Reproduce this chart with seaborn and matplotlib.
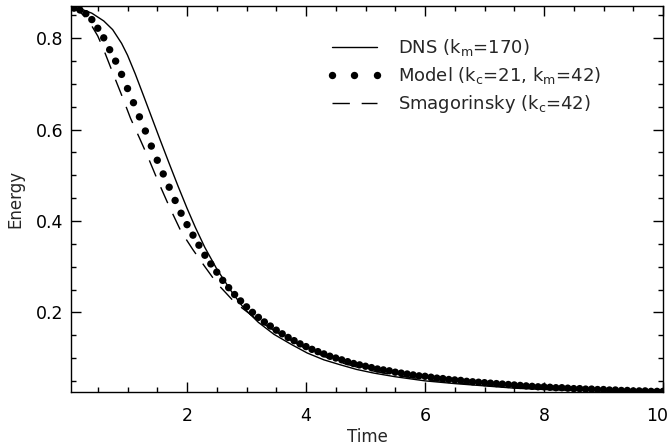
import matplotlib
matplotlib.use("Agg")
import matplotlib.pyplot as plt
from matplotlib.ticker import MultipleLocator
from matplotlib.lines import Line2D
from matplotlib.transforms import ScaledTranslation
import pandas as pd
import seaborn as sns

# ---------------- data ----------------
dns_time = [0.05, 0.2, 0.4, 0.6, 0.75, 0.9, 1.0, 1.13, 1.27, 1.4, 1.55, 1.7,
            1.85, 2.0, 2.14, 2.3, 2.5, 2.75, 2.95, 3.2, 3.46, 3.75, 4.02, 4.3,
            4.58, 4.85, 5.14, 5.5, 6.0, 6.5, 7.0, 7.5, 8.0, 8.5, 9.0, 9.5, 10.0]
dns_energy = [0.868, 0.865, 0.855, 0.838, 0.819, 0.789, 0.763, 0.722, 0.674,
              0.629, 0.577, 0.526, 0.476, 0.428, 0.386, 0.342, 0.295, 0.245,
              0.210, 0.178, 0.152, 0.130, 0.111, 0.096, 0.085, 0.075, 0.067,
              0.059, 0.050, 0.044, 0.039, 0.034, 0.031, 0.029, 0.028, 0.027,
              0.026]

model_time = [0.1, 0.2, 0.3, 0.4, 0.5, 0.6, 0.7, 0.8, 0.9, 1.0,
              1.1, 1.2, 1.3, 1.4, 1.5, 1.6, 1.7, 1.8, 1.9, 2.0,
              2.1, 2.2, 2.3, 2.4, 2.5, 2.6, 2.7, 2.8, 2.9, 3.0,
              3.1, 3.2, 3.3, 3.4, 3.5, 3.6, 3.7, 3.8, 3.9, 4.0,
              4.1, 4.2, 4.3, 4.4, 4.5, 4.6, 4.7, 4.8, 4.9, 5.0,
              5.1, 5.2, 5.3, 5.4, 5.5, 5.6, 5.7, 5.8, 5.9, 6.0,
              6.1, 6.2, 6.3, 6.4, 6.5, 6.6, 6.7, 6.8, 6.9, 7.0,
              7.1, 7.2, 7.3, 7.4, 7.5, 7.6, 7.7, 7.8, 7.9, 8.0,
              8.1, 8.2, 8.3, 8.4, 8.5, 8.6, 8.7, 8.8, 8.9, 9.0,
              9.1, 9.2, 9.3, 9.4, 9.5, 9.6, 9.7, 9.8, 9.9, 10.0]
model_energy = [0.866, 0.862, 0.854, 0.841, 0.822, 0.801, 0.775, 0.750, 0.721, 0.690,
                0.659, 0.628, 0.597, 0.564, 0.533, 0.503, 0.474, 0.445, 0.417, 0.392,
                0.369, 0.347, 0.325, 0.306, 0.288, 0.270, 0.254, 0.239, 0.225, 0.212,
                0.200, 0.189, 0.179, 0.170, 0.161, 0.153, 0.145, 0.138, 0.131, 0.125,
                0.119, 0.114, 0.109, 0.104, 0.100, 0.096, 0.092, 0.088, 0.085, 0.082,
                0.079, 0.076, 0.074, 0.072, 0.069, 0.067, 0.065, 0.063, 0.061, 0.060,
                0.058, 0.056, 0.055, 0.053, 0.052, 0.051, 0.049, 0.048, 0.047, 0.046,
                0.045, 0.044, 0.043, 0.042, 0.041, 0.040, 0.039, 0.038, 0.037, 0.037,
                0.036, 0.035, 0.035, 0.034, 0.033, 0.033, 0.032, 0.032, 0.031, 0.031,
                0.030, 0.030, 0.029, 0.029, 0.028, 0.028, 0.028, 0.027, 0.027, 0.027]

smag_time = [0.05, 0.2, 0.35, 0.5, 0.6, 0.75, 0.9, 1.05, 1.2, 1.35, 1.5, 1.7,
             1.9, 2.1, 2.3, 2.5, 2.8, 3.2, 3.5, 4.0, 4.5, 5.0, 5.5, 6.0, 6.5,
             7.0, 7.5, 8.0, 8.5, 9.0, 9.5, 10.0]
smag_energy = [0.868, 0.858, 0.838, 0.805, 0.775, 0.725, 0.676, 0.625, 0.582,
               0.538, 0.491, 0.432, 0.377, 0.337, 0.300, 0.264, 0.222, 0.182,
               0.157, 0.120, 0.093, 0.075, 0.062, 0.053, 0.046, 0.040, 0.036,
               0.033, 0.030, 0.029, 0.028, 0.027]

labels = [r"DNS (k$_\mathrm{m}$=170)",
          r"Model (k$_\mathrm{c}$=21, k$_\mathrm{m}$=42)",
          r"Smagorinsky (k$_\mathrm{c}$=42)"]

# ---------------- style ----------------
sns.set_style("ticks")
plt.rcParams["font.family"] = ["DejaVu Sans"]
plt.rcParams["mathtext.fontset"] = "dejavusans"
plt.rcParams["font.size"] = 12

fig = plt.figure(figsize=(6.71, 4.48), dpi=100)
ax = fig.add_axes([71 / 671, 1 - 392 / 448, (663 - 71) / 671, (392 - 6) / 448])

dns_df = pd.DataFrame({"Time": dns_time, "Energy": dns_energy})
model_df = pd.DataFrame({"Time": model_time, "Energy": model_energy})
smag_df = pd.DataFrame({"Time": smag_time, "Energy": smag_energy})

sns.lineplot(data=dns_df, x="Time", y="Energy", ax=ax, color="black",
             linewidth=1.0, estimator=None, sort=False)
sns.lineplot(data=smag_df, x="Time", y="Energy", ax=ax, color="black",
             linewidth=1.0, estimator=None, sort=False,
             linestyle=(0, (12.5, 8.5)))
sns.scatterplot(data=model_df, x="Time", y="Energy", ax=ax, color="black",
                s=28, edgecolor="none", linewidth=0, zorder=3)

ax.set_xlim(0.05, 10)
ax.set_ylim(0.0256, 0.8707)

ax.xaxis.set_major_locator(MultipleLocator(2))
ax.xaxis.set_minor_locator(MultipleLocator(0.5))
ax.yaxis.set_major_locator(MultipleLocator(0.2))
ax.yaxis.set_minor_locator(MultipleLocator(0.05))

ax.tick_params(which="both", direction="in", top=True, right=True,
               color="black", width=1.0, labelsize=12.5, labelcolor="black")
ax.tick_params(which="major", length=7)
ax.tick_params(which="minor", length=3.6)
ax.tick_params(axis="x", which="both", pad=11)
ax.tick_params(axis="y", which="both", pad=5.5)

for sp in ax.spines.values():
    sp.set_linewidth(1.0)
    sp.set_color("black")

ax.set_xlabel("Time", fontsize=12, labelpad=2)
ax.set_ylabel("Energy", fontsize=12, labelpad=8)

# keep the last x tick label ("10") inside the canvas
fig.canvas.draw()
for lab in ax.get_xticklabels():
    if lab.get_text() in ("10", "$\\mathdefault{10}$"):
        lab.set_transform(lab.get_transform() +
                          ScaledTranslation(-4 / 72, 0, fig.dpi_scale_trans))

handles = [
    Line2D([], [], color="black", linewidth=1.0),
    Line2D([], [], color="black", linestyle="none", marker="o", markersize=5.3,
           markeredgewidth=0),
    Line2D([], [], color="black", linewidth=1.0, linestyle=(0, (12.5, 8.5))),
]
ax.legend(handles, labels, loc="upper left", bbox_to_anchor=(0.431, 0.92),
          frameon=False, numpoints=3, handlelength=3.1, handletextpad=0.9,
          labelspacing=0.4, borderpad=0, borderaxespad=0, fontsize=13)

fig.savefig("out.png", dpi=100)
